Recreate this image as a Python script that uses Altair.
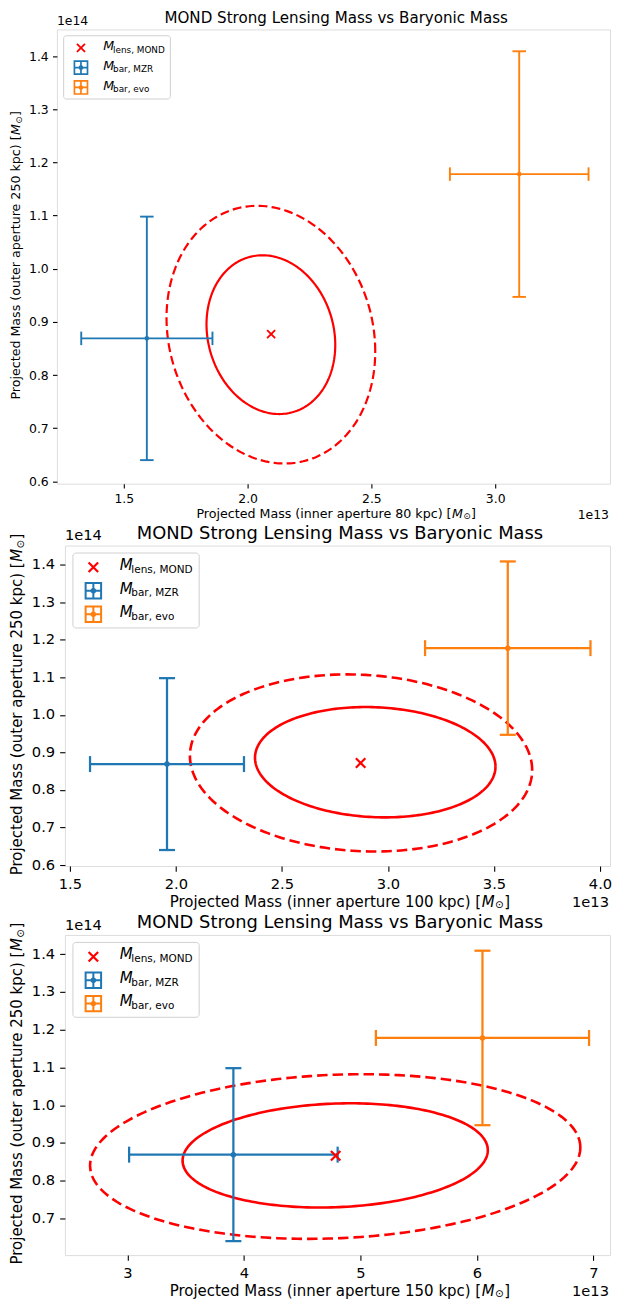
import math
import numpy as np
import pandas as pd
import altair as alt

FONT = "DejaVu Sans"
BLUE = "#1f77b4"
ORANGE = "#ff7f0e"
RED = "#ff0000"

# ---------------- text ----------------
chart_title = "MOND Strong Lensing Mass vs Baryonic Mass"
inner_apertures = ["80", "100", "150"]
outer_aperture = "250"
legend_subscripts = ["lens, MOND", "bar, MZR", "bar, evo"]
x_offset_text = "1e13"
y_offset_text = "1e14"

# ---------------- data (x in 1e13 Msun, y in 1e14 Msun) ----------------
lens_x = [2.095, 2.871, 4.788]
lens_y = [0.877, 0.872, 0.866]

# confidence ellipses of the lensing fit: [solid 68%, dashed 95%] per panel
ell_cx = [[2.094, 2.094], [2.940, 2.873], [4.784, 4.784]]
ell_cy = [[0.876, 0.876], [0.874, 0.872], [0.867, 0.864]]
ell_ax = [[0.260, 0.4215], [0.567, 0.807], [1.310, 2.104]]   # half extent in x
ell_ay = [[0.1493, 0.2423], [0.147, 0.236], [0.138, 0.218]]  # half extent in y
ell_rho = [[-0.13, -0.13], [-0.08, -0.08], [0.10, 0.11]]

mzr_x = [1.593, 1.958, 3.910]
mzr_xerr = [0.265, 0.363, 0.895]
mzr_y = [0.869, 0.869, 0.869]
mzr_yerr = [0.229, 0.229, 0.229]

evo_x = [3.097, 3.565, 6.048]
evo_xerr = [0.280, 0.390, 0.915]
evo_y = [1.178, 1.178, 1.178]
evo_yerr = [0.231, 0.231, 0.231]

x_domains = [[1.2298, 3.4637], [1.4765, 4.0471], [2.464, 7.1427]]
y_domains = [[0.5957, 1.4501], [0.5973, 1.4513], [0.6030, 1.4508]]
x_ticks = [[1.5, 2.0, 2.5, 3.0], [1.5, 2.0, 2.5, 3.0, 3.5, 4.0], [3, 4, 5, 6, 7]]
x_formats = [".1f", ".1f", "d"]
y_ticks = [[0.6, 0.7, 0.8, 0.9, 1.0, 1.1, 1.2, 1.3, 1.4],
           [0.6, 0.7, 0.8, 0.9, 1.0, 1.1, 1.2, 1.3, 1.4],
           [0.7, 0.8, 0.9, 1.0, 1.1, 1.2, 1.3, 1.4]]

# ---------------- layout ----------------
scales = [0.845, 1.0, 1.0]
widths = [554.0, 546.0, 546.0]
center_w = [559.4, 551.0, 551.0]
heights = [455.0, 321.0, 320.7]
title_base = [-6.2, -6.5, -6.5]
ytitle_xb = [-37.0, -43.0, -43.0]

XPATH = "M-1,-1L1,1M-1,1L1,-1"
EBPATH = "M-1,-1L1,-1L1,1L-1,1Z M-1,0L1,0 M0,-1L0,1"

one = pd.DataFrame({"k": [0]})


def txt(text, x, y, size, align="left", baseline="alphabetic", angle=0, style="normal"):
    return alt.Chart(one).mark_text(
        text=text, font=FONT, fontSize=size, align=align, baseline=baseline,
        angle=angle, fontStyle=style, color="black"
    ).encode(x=alt.value(x), y=alt.value(y))


def build_panel(i):
    s = scales[i]
    w = widths[i]
    h = heights[i]
    cw = center_w[i] / 2
    xs = alt.Scale(domain=x_domains[i], nice=False, zero=False)
    ys = alt.Scale(domain=y_domains[i], nice=False, zero=False)
    common = dict(grid=False, title=None, domain=False, labelFont=FONT,
                  labelFontSize=14.7 * s, labelColor="black", labelPadding=5 * s,
                  tickSize=5.25 * s, tickWidth=1.1, tickColor="black",
                  labelFlush=False, labelOverlap=False)
    ax = alt.Axis(values=x_ticks[i], format=x_formats[i], **common)
    ay = alt.Axis(values=y_ticks[i], format=".1f", **common)

    def X(f):
        return alt.X(f, type="quantitative", scale=xs, axis=ax)

    def Y(f):
        return alt.Y(f, type="quantitative", scale=ys, axis=ay)

    # ellipses
    rows = []
    t = np.linspace(0, 2 * np.pi, 241)
    for lev in range(2):
        r = ell_rho[i][lev]
        ex = ell_cx[i][lev] + ell_ax[i][lev] * np.cos(t)
        ey = ell_cy[i][lev] + ell_ay[i][lev] * (r * np.cos(t) + math.sqrt(1 - r * r) * np.sin(t))
        for j in range(len(t)):
            rows.append({"x": ex[j], "y": ey[j], "o": j, "lev": lev})
    ell = pd.DataFrame(rows)
    solid = alt.Chart(ell[ell.lev == 0]).mark_line(color=RED, strokeWidth=2.6 * s).encode(
        x=X("x"), y=Y("y"), order="o:Q")
    dashed = alt.Chart(ell[ell.lev == 1]).mark_line(
        color=RED, strokeWidth=2.6 * s, strokeDash=[10.5 * s, 5 * s]).encode(
        x=X("x"), y=Y("y"), order="o:Q")

    # error bars
    eb = pd.DataFrame({
        "series": ["MZR", "evo"],
        "x": [mzr_x[i], evo_x[i]],
        "y": [mzr_y[i], evo_y[i]],
        "xlo": [mzr_x[i] - mzr_xerr[i], evo_x[i] - evo_xerr[i]],
        "xhi": [mzr_x[i] + mzr_xerr[i], evo_x[i] + evo_xerr[i]],
        "ylo": [mzr_y[i] - mzr_yerr[i], evo_y[i] - evo_yerr[i]],
        "yhi": [mzr_y[i] + mzr_yerr[i], evo_y[i] + evo_yerr[i]],
    })
    color = alt.Color("series:N", scale=alt.Scale(domain=["MZR", "evo"], range=[BLUE, ORANGE]),
                      legend=None)
    hbar = alt.Chart(eb).mark_rule(strokeWidth=2.25 * s).encode(
        x=X("xlo"), x2="xhi", y=Y("y"), color=color)
    vbar = alt.Chart(eb).mark_rule(strokeWidth=2.25 * s).encode(
        x=X("x"), y=Y("ylo"), y2="yhi", color=color)
    hcap_df = pd.concat([eb.assign(cy=eb.ylo), eb.assign(cy=eb.yhi)])
    vcap_df = pd.concat([eb.assign(cx=eb.xlo), eb.assign(cx=eb.xhi)])
    hcaps = alt.Chart(hcap_df).mark_tick(orient="horizontal", size=16 * s, thickness=2.25 * s,
                                         opacity=1).encode(x=X("x"), y=Y("cy"), color=color)
    vcaps = alt.Chart(vcap_df).mark_tick(orient="vertical", size=16 * s, thickness=2.25 * s,
                                         opacity=1).encode(x=X("cx"), y=Y("y"), color=color)
    dots = alt.Chart(eb).mark_circle(size=30 * s * s, opacity=1).encode(
        x=X("x"), y=Y("y"), color=color)

    lens = alt.Chart(pd.DataFrame({"x": [lens_x[i]], "y": [lens_y[i]]})).mark_point(
        shape=XPATH, filled=False, color=RED, strokeWidth=2.2 * s, size=(9.5 * s) ** 2,
        opacity=1).encode(x=X("x"), y=Y("y"))

    layers = [solid, dashed, hbar, vbar, hcaps, vcaps, dots, lens]

    # legend
    box = alt.Chart(one).mark_rect(fill="white", fillOpacity=0.8, stroke="#d0d0d0",
                                   strokeWidth=1, cornerRadius=3 * s).encode(
        x=alt.value(8 * s), x2=alt.value(134.5 * s), y=alt.value(7.5 * s), y2=alt.value(82.5 * s))
    layers.append(box)
    ent_y = [21.8 * s, 45.3 * s, 68.8 * s]
    mx = 28.5 * s
    layers.append(alt.Chart(one).mark_point(
        shape=XPATH, filled=False, color=RED, strokeWidth=2.2 * s, size=(9.5 * s) ** 2,
        opacity=1).encode(x=alt.value(mx), y=alt.value(ent_y[0])))
    for col, ey in [(BLUE, ent_y[1]), (ORANGE, ent_y[2])]:
        layers.append(alt.Chart(one).mark_point(
            shape=EBPATH, filled=False, color=col, strokeWidth=2 * s, size=(15.5 * s) ** 2,
            opacity=1).encode(x=alt.value(mx), y=alt.value(ey)))
        layers.append(alt.Chart(one).mark_circle(color=col, size=30 * s * s, opacity=1).encode(
            x=alt.value(mx), y=alt.value(ey)))
    for sub, ey in zip(legend_subscripts, ent_y):
        layers.append(txt("M", 55 * s, ey + 2.8 * s, 15 * s, style="italic"))
        layers.append(txt(sub, 66.5 * s, ey + 5.6 * s, 10.5 * s))

    # title and offset texts
    layers.append(txt(chart_title, cw, title_base[i], 17.9 * s, align="center"))
    layers.append(txt(y_offset_text, 0, -5.3 * s, 14.7 * s))
    layers.append(txt(x_offset_text, w - 1, h + 41.3 * s, 14.7 * s, align="right"))

    # x-axis title: "Projected Mass (inner aperture .. kpc) [M_sun]"
    full_w = 337 - (9.5 if len(inner_apertures[i]) == 2 else 0)
    xbr = cw + s * (full_w / 2 - 27)
    xb = h + 41 * s
    layers.append(txt(f"Projected Mass (inner aperture {inner_apertures[i]} kpc) [",
                      xbr, xb, 15 * s, align="right"))
    layers.append(txt("M", xbr + 0.5 * s, xb, 15 * s, style="italic"))
    layers.append(txt("\u2299", xbr + 13.8 * s, xb + 1.2 * s, 10.5 * s))
    layers.append(txt("]", xbr + 23 * s, xb, 15 * s))

    # y-axis title (rotated)
    ybr = h / 2 - s * (341.4 / 2 - 27)
    yx = ytitle_xb[i]
    layers.append(txt(f"Projected Mass (outer aperture {outer_aperture} kpc) [",
                      yx, ybr, 15 * s, align="right", angle=270))
    layers.append(txt("M", yx, ybr - 0.5 * s, 15 * s, angle=270, style="italic"))
    layers.append(txt("\u2299", yx + 2.2 * s, ybr - 13.8 * s, 10.5 * s, angle=270))
    layers.append(txt("]", yx, ybr - 23 * s, 15 * s, angle=270))

    return alt.layer(*layers).properties(width=w, height=h)


def spacer():
    return alt.Chart(one).mark_rect(opacity=0).encode(
        x=alt.value(0), x2=alt.value(1), y=alt.value(0), y2=alt.value(1)
    ).properties(width=1, height=1,
                 view=alt.ViewBackground(stroke="transparent", strokeWidth=0))


# a 1px spacer column lets each panel be placed by its own full bounds
panels = [alt.hconcat(spacer(), build_panel(i), spacing=0) for i in range(3)]

chart = alt.vconcat(
    *panels, spacing=2,
    padding={"left": 0, "top": 1.4, "right": 0, "bottom": -1},
).configure_view(stroke="black", strokeWidth=1.1).configure(font=FONT)

chart.save("out.html", embed_options={"renderer": "svg", "actions": False})
